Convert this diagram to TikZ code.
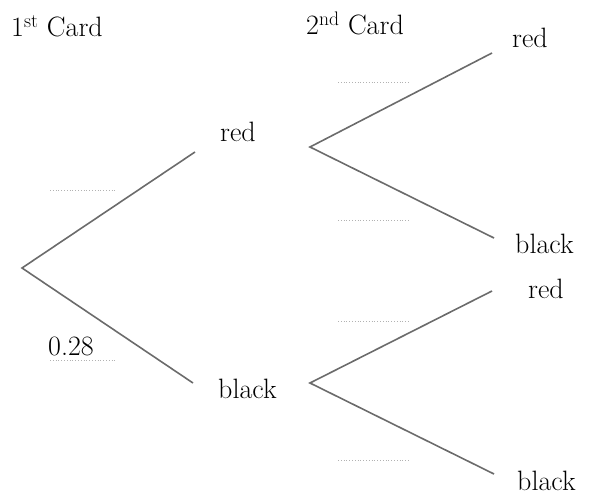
\documentclass[tikz,border=0pt]{standalone}
\begin{document}
\begin{tikzpicture}[x=1pt,y=-1pt,
  branch/.style={draw=black!58,line width=1.6pt},
  blank/.style={draw=black!30,dotted,line width=0.8pt},
  lbl/.style={font=\fontsize{28}{32}\selectfont,inner sep=0pt,anchor=base west}]
\useasboundingbox (0,0) rectangle (590,495);
% headings
\node[lbl] (h1) at (11,37) {1\textsuperscript{st} Card};
\node[lbl] (h2) at (306,35) {2\textsuperscript{nd} Card};
% first level
\coordinate (root) at (22,268);
\coordinate (r1) at (195,152);
\coordinate (b1) at (193,383);
\node[lbl] (red1) at (220,142) {red};
\node[lbl] (black1) at (218,398) {black};
% second level
\coordinate (s1) at (310,147);
\coordinate (s2) at (310,383);
\coordinate (rr) at (492,53);
\coordinate (rb) at (494,238);
\coordinate (br) at (492,291);
\coordinate (bb) at (494,474);
\node[lbl] (rrl) at (512,48) {red};
\node[lbl] (rbl) at (515,253) {black};
\node[lbl] (brl) at (528,298) {red};
\node[lbl] (bbl) at (517,490) {black};
% branches
\draw[branch] (r1) -- (root) -- (b1);
\draw[branch] (rr) -- (s1) -- (rb);
\draw[branch] (br) -- (s2) -- (bb);
% blanks
\coordinate (d1a) at (50,190); \coordinate (d1b) at (117,190);
\coordinate (d2a) at (50,360); \coordinate (d2b) at (117,360);
\coordinate (d3a) at (338,82); \coordinate (d3b) at (410,82);
\coordinate (d4a) at (338,220); \coordinate (d4b) at (410,220);
\coordinate (d5a) at (338,321); \coordinate (d5b) at (410,321);
\coordinate (d6a) at (338,460); \coordinate (d6b) at (410,460);
\draw[blank] (d1a) -- (d1b);
\draw[blank] (d2a) -- (d2b);
\draw[blank] (d3a) -- (d3b);
\draw[blank] (d4a) -- (d4b);
\draw[blank] (d5a) -- (d5b);
\draw[blank] (d6a) -- (d6b);
\node[lbl] (p) at (48,355) {0.28};
\end{tikzpicture}
\end{document}
